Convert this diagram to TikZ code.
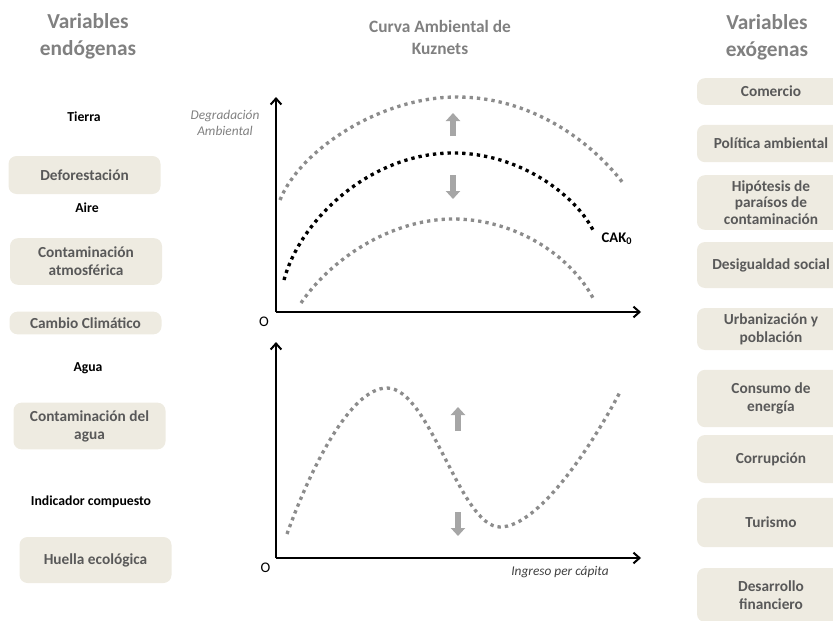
\documentclass[tikz,border=0pt]{standalone}
\usepackage{fontspec}
\setmainfont{Carlito}
\usetikzlibrary{arrows.meta,positioning}
\definecolor{cajafondo}{RGB}{238,235,225}
\definecolor{cajatexto}{RGB}{89,89,89}
\definecolor{titulogris}{RGB}{128,128,128}
\definecolor{curvagris}{RGB}{140,140,140}
\definecolor{flechagris}{RGB}{166,166,166}
\tikzset{
  caja/.style={fill=cajafondo, rounded corners=6pt, text=cajatexto, align=center,
    font=\fontsize{11.5}{13.5}\selectfont\bfseries, inner sep=0pt},
  cajaizq/.style={caja, minimum width=114pt},
  cajader/.style={caja, minimum width=111pt},
  titulo/.style={text=titulogris, align=center, font=\fontsize{16}{20}\selectfont\bfseries},
  grupo/.style={font=\fontsize{10.3}{12}\selectfont\bfseries},
  eje/.style={line width=1.5pt, -{Straight Barb[length=4.5pt,width=8pt]}},
  punteada/.style={line width=2.5pt, dash pattern=on 2.5pt off 3pt, curvagris},
  flecha/.style={line width=5pt, flechagris, -{Triangle[width=10.5pt,length=6pt]}}
}
\begin{document}
\begin{tikzpicture}[x=0.75pt, y=-0.75pt]
\useasboundingbox (0,0) rectangle (833,621);
\clip (0,0) rectangle (833,621);
% variables endogenas
\node[titulo] (endo) at (88,36.5) {Variables\\endógenas};
\node[grupo] (tierra) at (84,117) {Tierra};
\node[cajaizq, minimum height=28.5pt] (defor) at (84.5,175) {Deforestación};
\node[grupo] (aire) at (87,208) {Aire};
\node[cajaizq, minimum height=35pt] (atmos) at (86,261.5) {Contaminación\\atmosférica};
\node[cajaizq, minimum height=17pt] (clima) at (85.5,323) {Cambio Climático};
\node[grupo] (agua) at (88,368) {Agua};
\node[cajaizq, minimum height=35pt] (contagua) at (89.5,426) {Contaminación del\\agua};
\node[grupo] (indic) at (91,502) {Indicador compuesto};
\node[cajaizq, minimum height=34.5pt] (huella) at (95.5,560) {Huella ecológica};
% variables exogenas
\node[titulo] (exo) at (767,37) {Variables\\exógenas};
\node[cajader, minimum height=20pt] (comercio) at (771,91.5) {Comercio};
\node[cajader, minimum height=28pt] (politica) at (771,143.5) {Política ambiental};
\node[cajader, minimum height=41pt, font=\fontsize{11.5}{12.5}\selectfont\bfseries] (paraisos) at (771,202.5) {Hipótesis de\\paraísos de\\contaminación};
\node[cajader, minimum height=34.5pt] (desig) at (771,265) {Desigualdad social};
\node[cajader, minimum height=31.5pt] (urban) at (771,329) {Urbanización y\\población};
\node[cajader, minimum height=43pt] (energia) at (771,398.5) {Consumo de\\energía};
\node[cajader, minimum height=36pt] (corrup) at (771,459) {Corrupción};
\node[cajader, minimum height=37pt] (turismo) at (771,522.5) {Turismo};
\node[cajader, minimum height=40.5pt] (financ) at (771,595) {Desarrollo\\financiero};
% curva ambiental de Kuznets
\node[titulo, font=\fontsize{13}{16}\selectfont\bfseries] (cak) at (440,37.5) {Curva Ambiental de\\Kuznets};
\coordinate (O1) at (276,312);
\coordinate (Y1) at (276,97);
\coordinate (X1) at (641,312);
\draw[eje] (O1)--(Y1);
\draw[eje] (O1)--(X1);
\node[text=titulogris, align=center, font=\fontsize{10}{12.5}\selectfont\itshape] (degrad) at (225,123) {Degradación\\Ambiental};
\node[font=\fontsize{11}{13}\selectfont] (origen1) at (264,322) {O};
\draw[punteada] (280,200) .. controls (300,150) and (380,97) .. (457,97)
                          .. controls (530,97) and (590,140) .. (623,183);       % arriba
\draw[punteada, black] (284,280) .. controls (300,220) and (370,153) .. (453,153)
                          .. controls (520,153) and (575,195) .. (593,230);     % CAK_0
\draw[punteada] (301,303) .. controls (330,260) and (390,219) .. (453,219)
                          .. controls (515,219) and (570,255) .. (593,298);     % abajo
\node[anchor=west, font=\fontsize{11}{13}\selectfont\bfseries] (cak0) at (597,239) {CAK\textsubscript{0}};
\draw[flecha] (453,136)--(453,113);
\draw[flecha] (453,175)--(453,199);
% curva en N
\coordinate (O2) at (276,558);
\coordinate (Y2) at (276,342);
\coordinate (X2) at (641,558);
\draw[eje] (O2)--(Y2);
\draw[eje] (O2)--(X2);
\node[font=\fontsize{11}{13}\selectfont] (origen2) at (265.5,568) {O};
\node[text=black!75, font=\fontsize{10}{12}\selectfont\itshape] (ingreso) at (560,572) {Ingreso per cápita};
\draw[punteada] (287,534) .. controls (310,470) and (350,388) .. (387,388)
                          .. controls (430,388) and (460,527) .. (500,527)
                          .. controls (540,527) and (595,440) .. (620,392);
\draw[flecha] (458,431)--(458,407);
\draw[flecha] (458,512)--(458,536);
\end{tikzpicture}
\end{document}
